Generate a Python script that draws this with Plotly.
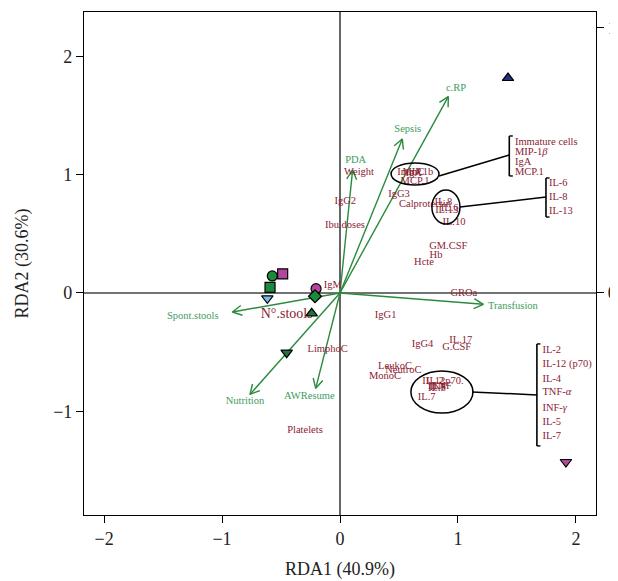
import numpy as np
import plotly.graph_objects as go

# ---------------- data ----------------
# site scores (symbols)
site_x = [-0.574, -0.486, -0.593, -0.616, -0.203, -0.212, -0.240, -0.452, 1.424, 1.915]
site_y = [0.144, 0.161, 0.048, -0.045, 0.036, -0.028, -0.172, -0.505, 1.817, -1.429]
site_symbol = ["circle", "square", "square", "triangle-down", "circle", "diamond",
               "triangle-up", "triangle-down", "triangle-up", "triangle-down"]
site_color = ["#1b8a3a", "#b5469f", "#1b8a3a", "#74c0e8", "#b5469f", "#1b8a3a",
              "#23733a", "#23733a", "#27307a", "#b5469f"]

# environmental arrows
env_names = ["c.RP", "Sepsis", "PDA", "Transfusion", "Spont.stools", "Nutrition", "AWResume"]
env_x = [0.918, 0.528, 0.107, 1.215, -0.912, -0.763, -0.206]
env_y = [1.660, 1.302, 1.040, -0.096, -0.161, -0.857, -0.806]
env_lab_x = [0.983, 0.574, 0.133, 1.466, -1.248, -0.805, -0.260]
env_lab_y = [1.733, 1.386, 1.118, -0.116, -0.200, -0.919, -0.877]

# response variable labels
sp_names = ["Weight", "IgG2", "Ibu.doses", "IgM", "IgG3", "Calprotectin", "IL.8", "IL.6",
            "IL.13", "IL.10", "GM.CSF", "Hb", "Hcte", "ImmC", "MIP.1b", "IgA", "MCP.1",
            "IgG1", "GROa", "LimphoC", "IgG4", "IL.17", "G.CSF", "LeukoC", "NeutroC",
            "MonoC", "Platelets", "IL.2", "IL.12p70.", "IL.4", "TNF", "INF", "IL.5", "IL.7"]
sp_x = [0.161, 0.045, 0.042, -0.062, 0.500, 0.720, 0.876, 0.930,
        0.904, 0.966, 0.918, 0.814, 0.712, 0.600, 0.660, 0.625, 0.636,
        0.387, 1.050, -0.105, 0.700, 1.023, 0.989, 0.466, 0.537,
        0.381, -0.297, 0.805, 0.873, 0.822, 0.864, 0.830, 0.822, 0.735]
sp_y = [1.017, 0.772, 0.569, 0.065, 0.837, 0.752, 0.767, 0.712,
        0.700, 0.594, 0.391, 0.319, 0.256, 1.017, 1.017, 1.010, 0.941,
        -0.186, -0.006, -0.479, -0.434, -0.403, -0.462, -0.623, -0.657,
        -0.702, -1.164, -0.744, -0.744, -0.790, -0.792, -0.800, -0.810, -0.882]
stool_label = "N°.stools"
stool_x, stool_y = -0.452, -0.178

# grouped bracket labels
grp1 = ["Immature cells", "MIP-1<i>β</i>", "IgA", "MCP.1"]
grp2 = ["IL-6", "IL-8", "IL-13"]
grp3 = ["IL-2", "IL-12 (p70)", "IL-4", "TNF-<i>α</i>", "INF-<i>γ</i>", "IL-5", "IL-7"]

x_ticks = [-2, -1, 0, 1, 2]
y_ticks = [-1, 0, 1, 2]
y2_ticks = [0, 1]

# ---------------- styling ----------------
SERIF = "Liberation Serif, Times New Roman, serif"
RED = "#8b2232"
GREEN_ARROW = "#2a8a3e"
GREEN_TXT = "#3e9b5e"
XR = [-2.17, 2.17]
YR = [-1.877, 2.375]
Y2R = [YR[0] * 118.3 / 265, YR[1] * 118.3 / 265]

fig = go.Figure()

# arrows (line + open V head)
head = 0.09
ang = np.deg2rad(28)
for ex, ey in zip(env_x, env_y):
    th = np.arctan2(ey, ex)
    hx1 = ex - head * np.cos(th - ang)
    hy1 = ey - head * np.sin(th - ang)
    hx2 = ex - head * np.cos(th + ang)
    hy2 = ey - head * np.sin(th + ang)
    fig.add_trace(go.Scatter(x=[0, ex, None, hx1, ex, hx2], y=[0, ey, None, hy1, ey, hy2],
                             mode="lines", line=dict(color=GREEN_ARROW, width=1.4),
                             hoverinfo="skip", showlegend=False))

fig.add_trace(go.Scatter(x=env_lab_x, y=env_lab_y, text=env_names, mode="text",
                         textfont=dict(family=SERIF, size=10.5, color=GREEN_TXT),
                         showlegend=False))

fig.add_trace(go.Scatter(x=sp_x, y=sp_y, text=sp_names, mode="text",
                         textfont=dict(family=SERIF, size=10.5, color=RED),
                         showlegend=False))
fig.add_trace(go.Scatter(x=[stool_x], y=[stool_y], text=[stool_label], mode="text",
                         textfont=dict(family=SERIF, size=14, color=RED),
                         showlegend=False))

fig.add_trace(go.Scatter(x=site_x, y=site_y, mode="markers",
                         marker=dict(symbol=site_symbol, color=site_color, size=10,
                                     line=dict(color="black", width=1.2)),
                         showlegend=False))

# ellipses
ellipses = [(0.636, 1.006, 0.203, 0.093), (0.898, 0.727, 0.119, 0.144), (0.864, -0.837, 0.263, 0.178)]
for cx, cy, rx, ry in ellipses:
    fig.add_shape(type="circle", xref="x", yref="y", x0=cx - rx, x1=cx + rx, y0=cy - ry, y1=cy + ry,
                  line=dict(color="black", width=1.5))

# brackets with connectors
brackets = [
    dict(bx=1.435, top=1.327, bot=0.989, lx=1.483, ys=[1.276, 1.192, 1.107, 1.023], labels=grp1,
         c0=(0.839, 0.989), c1=(1.435, 1.166)),
    dict(bx=1.746, top=0.972, bot=0.642, lx=1.771, ys=[0.930, 0.811, 0.693], labels=grp2,
         c0=(1.017, 0.727), c1=(1.746, 0.811)),
    dict(bx=1.669, top=-0.431, bot=-1.293, lx=1.716,
         ys=[-0.482, -0.600, -0.727, -0.837, -0.972, -1.090, -1.209], labels=grp3,
         c0=(1.119, -0.837), c1=(1.669, -0.862)),
]
for b in brackets:
    fig.add_shape(type="line", x0=b["bx"], x1=b["bx"], y0=b["bot"], y1=b["top"],
                  line=dict(color="black", width=1.6))
    for yy in (b["top"], b["bot"]):
        fig.add_shape(type="line", x0=b["bx"], x1=b["bx"] + 0.03, y0=yy, y1=yy,
                      line=dict(color="black", width=1.4))
    fig.add_shape(type="line", x0=b["c0"][0], y0=b["c0"][1], x1=b["c1"][0], y1=b["c1"][1],
                  line=dict(color="black", width=1.5))
    fig.add_trace(go.Scatter(x=[b["lx"]] * len(b["labels"]), y=b["ys"], text=b["labels"],
                             mode="text", textposition="middle right",
                             textfont=dict(family=SERIF, size=10.5, color=RED), showlegend=False))

# zero lines
fig.add_shape(type="line", xref="x", yref="y", x0=0, x1=0, y0=YR[0], y1=YR[1],
              line=dict(color="#333", width=1.5), layer="below")
fig.add_shape(type="line", xref="x", yref="y", x0=XR[0], x1=XR[1], y0=0, y1=0,
              line=dict(color="#444", width=1.5), layer="below")

# dummy trace for y2
fig.add_trace(go.Scatter(x=[None], y=[None], yaxis="y2", showlegend=False))

axis_common = dict(showgrid=False, zeroline=False, showline=True, linecolor="black", linewidth=1.2,
                   ticks="outside", ticklen=7, tickcolor="black", tickwidth=1.2, automargin=False,
                   tickfont=dict(family=SERIF, size=18, color="#222"))
fig.update_layout(
    width=610, height=573,
    margin=dict(l=76, r=22, t=4, b=66),
    paper_bgcolor="white", plot_bgcolor="white",
    xaxis=dict(range=XR, tickvals=x_ticks, ticktext=["\u22122", "\u22121", "0", "1", "2"],
               mirror=True,
               title=dict(text="RDA1 (40.9%)", font=dict(family=SERIF, size=18, color="#222"), standoff=14),
               **axis_common),
    yaxis=dict(range=YR, tickvals=y_ticks, ticktext=["\u22121", "0", "1", "2"], mirror=True,
               title=dict(text="RDA2 (30.6%)", font=dict(family=SERIF, size=18, color="#222"), standoff=19),
               **axis_common),
    yaxis2=dict(range=Y2R, tickvals=y2_ticks, overlaying="y", side="right", anchor="x",
                ticklabelstandoff=0, ticklabeloverflow="allow", **axis_common),
    showlegend=False,
)

fig.write_html("out.html")
